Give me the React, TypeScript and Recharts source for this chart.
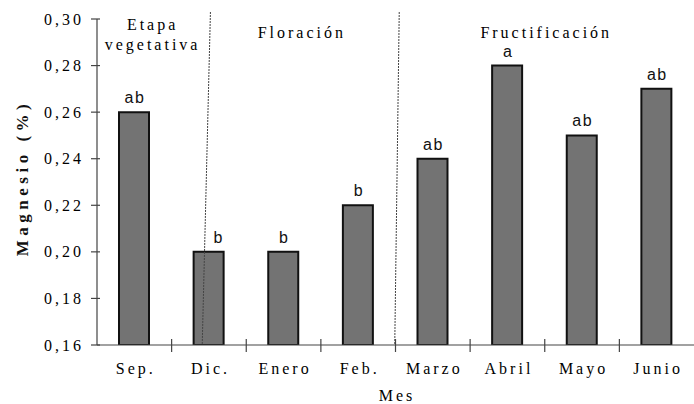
import React from "react";
import { BarChart, Bar, XAxis, YAxis, ReferenceLine, ReferenceArea, LabelList } from "recharts";

const months = ["Sep.", "Dic.", "Enero", "Feb.", "Marzo", "Abril", "Mayo", "Junio"];
const magnesio = [0.26, 0.2, 0.2, 0.22, 0.24, 0.28, 0.25, 0.27];
const letters = ["ab", "b", "b", "b", "ab", "a", "ab", "ab"];
const yTicks = [0.16, 0.18, 0.2, 0.22, 0.24, 0.26, 0.28, 0.3];
const phaseNames = ["Etapa|vegetativa", "Floración", "Fructificación"];
const phaseStart = [0, 1.45, 4];
const phaseEnd = [1.45, 4, 8];
const dividerTop = [1.52, 4.05];
const dividerBottom = [1.41, 3.99];

const data = months.map((m, i) => ({ mes: m, pos: i + 0.5, mg: magnesio[i], sig: letters[i] }));
const xTicks: number[] = [];
for (let i = 0; i < months.length; i++) {
  xTicks.push(i + 0.5);
  if (i < months.length - 1) xTicks.push(i + 1);
}

const SERIF = "'Liberation Serif', 'Times New Roman', serif";
const SANS = "'Liberation Sans', Arial, sans-serif";
const AX = "#444";
const LS = 3;

const YTick = (props: any) => {
  const { x, y, payload } = props;
  return (
    <g>
      <line x1={x - 6} x2={x + 3} y1={y} y2={y} stroke={AX} strokeWidth={1.2} />
      <text x={x - 13} y={y + 5.5} textAnchor="end" fontFamily={SERIF} fontSize={16} letterSpacing={LS} fill="#000">
        {payload.value.toFixed(2).replace(".", ",")}
      </text>
    </g>
  );
};

const XTick = (props: any) => {
  const { x, y, payload } = props;
  const v = payload.value as number;
  if (Number.isInteger(v)) {
    return <line x1={x} x2={x} y1={y - 6} y2={y + 7} stroke={AX} strokeWidth={1.2} />;
  }
  return (
    <text x={x + 1.5} y={y + 29} textAnchor="middle" fontFamily={SERIF} fontSize={16} letterSpacing={LS} fill="#000">
      {months[Math.floor(v)]}
    </text>
  );
};

const YLabel = (props: any) => {
  const vb = props.viewBox;
  const cx = vb.x + 22;
  const cy = vb.y + vb.height / 2 - 4;
  return (
    <text x={cx} y={cy} transform={`rotate(-90 ${cx} ${cy})`} textAnchor="middle" dominantBaseline="central" fontFamily={SERIF} fontSize={17} fontWeight="bold" letterSpacing={4.5} fill="#111">
      Magnesio (%)
    </text>
  );
};

const XLabel = (props: any) => {
  const vb = props.viewBox;
  return (
    <text x={vb.x + vb.width / 2 + 1.5} y={vb.y + 56} textAnchor="middle" fontFamily={SERIF} fontSize={16} letterSpacing={LS} fill="#000">
      Mes
    </text>
  );
};

const PhaseLabel = (name: string) => (props: any) => {
  const vb = props.viewBox;
  const lines = name.split("|");
  const cx = vb.x + vb.width / 2;
  const startY = lines.length > 1 ? vb.y + 11 : vb.y + 19;
  return (
    <text textAnchor="middle" fontFamily={SERIF} fontSize={16} letterSpacing={LS} fill="#000">
      {lines.map((l, i) => (
        <tspan key={i} x={cx + 1.5} y={startY + i * 20}>
          {l}
        </tspan>
      ))}
    </text>
  );
};

const SigLabel = (props: any) => {
  const { x, y, width, value, index } = props;
  return (
    <text x={x + width / 2 + (index === 1 ? 9 : 0) + 1} y={y - 9} textAnchor="middle" fontFamily={SANS} fontSize={16} letterSpacing={1.5} fill="#111">
      {value}
    </text>
  );
};

export default function App() {
  return (
    <div style={{ position: "absolute", left: 0, top: 0, background: "#fff" }}>
      <BarChart width={694} height={404} data={data} margin={{ top: 19, right: 0, left: 0, bottom: 0 }}>
        <XAxis xAxisId="cat" dataKey="mes" hide height={0} />
        <XAxis
          xAxisId="num"
          dataKey="pos"
          type="number"
          domain={[0, 8]}
          ticks={xTicks}
          interval={0}
          allowDataOverflow
          height={59}
          tickSize={0}
          tickMargin={0}
          tickLine={false}
          axisLine={{ stroke: AX, strokeWidth: 1.2 }}
          tick={<XTick />}
          label={<XLabel />}
        />
        <YAxis
          domain={[0.16, 0.3]}
          ticks={yTicks}
          interval={0}
          allowDataOverflow
          width={97}
          tickSize={0}
          tickMargin={0}
          tickLine={false}
          axisLine={{ stroke: AX, strokeWidth: 1.2 }}
          tick={<YTick />}
          label={<YLabel />}
        />
        {phaseNames.map((n, i) => (
          <ReferenceArea
            key={n}
            xAxisId="num"
            x1={phaseStart[i]}
            x2={phaseEnd[i]}
            y1={0.16}
            y2={0.3}
            fill="none"
            stroke="none"
            ifOverflow="visible"
            label={PhaseLabel(n)}
          />
        ))}
        {dividerTop.map((t, i) => (
          <ReferenceLine
            key={i}
            xAxisId="num"
            segment={[
              { x: t, y: 0.303 },
              { x: dividerBottom[i], y: 0.16 },
            ]}
            stroke="#444"
            strokeWidth={1}
            strokeDasharray="2 1"
            ifOverflow="visible"
          />
        ))}
        <Bar xAxisId="cat" dataKey="mg" barSize={30} fill="#737373" stroke="#111" strokeWidth={2} isAnimationActive={false}>
          <LabelList dataKey="sig" content={<SigLabel />} />
        </Bar>
      </BarChart>
    </div>
  );
}
